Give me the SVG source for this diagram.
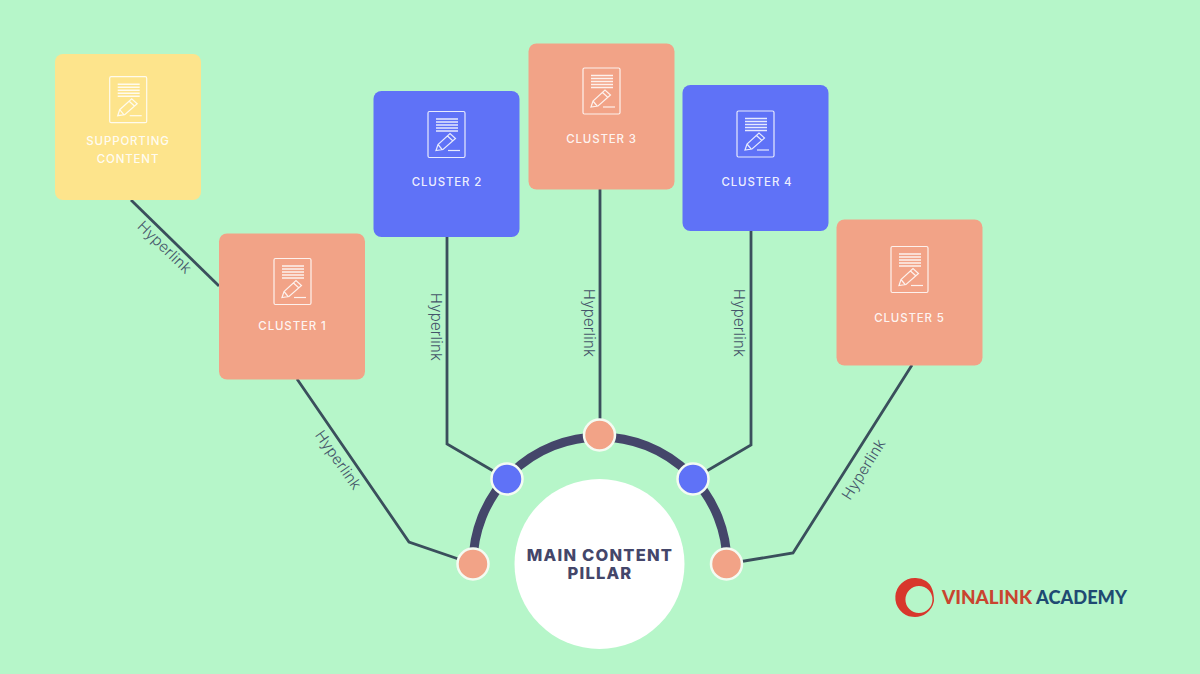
<svg xmlns="http://www.w3.org/2000/svg" width="1200" height="674" viewBox="0 0 1200 674">
<style>
.card{rx:8px;ry:8px}
.salmon{fill:#f2a387}
.blue{fill:#5f72f7}
.yellow{fill:#fde48c}
.cap{font-family:"Inter","Liberation Sans",sans-serif;font-size:11.5px;font-weight:500;fill:#fff;fill-opacity:.9;text-anchor:middle;letter-spacing:.85px}
.link{fill:none;stroke:#3a4f5c;stroke-width:2.8;stroke-linejoin:miter}
.lbl{font-family:"Inter","Liberation Sans",sans-serif;font-size:15px;font-weight:300;fill:#45556a;text-anchor:middle;letter-spacing:.2px}
.dot{stroke:#f4fbf2;stroke-width:2.5}
</style>
<defs>
<g id="doc" fill="none" stroke="#fff" stroke-opacity=".85">
<rect x="0" y="0" width="37" height="46" rx="1.5" stroke-width="1.2"/>
<path d="M8 7.500H30M8 10.500H30M8 13.500H30M8 16.500H30M8 19.500H30" stroke-width="1.4"/>
<path d="M8 39L10 33L22 22L27.500 27L15 38ZM10 33L14.500 38.500M19.500 24.500L25 29.500" stroke-width="1.2"/>
<path d="M20 39H32" stroke-width="1.2"/>
</g>
</defs>
<rect width="1200" height="674" fill="#b6f6c9"/>

<g id="connectors">
<path class="link" d="M131 200L219 286"/>
<path class="link" d="M297 379L409 542L473 564"/>
<path class="link" d="M447 237V444L507 479"/>
<path class="link" d="M600 189V435"/>
<path class="link" d="M751 231V445L693 479"/>
<path class="link" d="M912 365L793 553L726 564"/>
<text class="lbl" transform="translate(161 251) rotate(44)">Hyperlink</text>
<text class="lbl" transform="translate(334 463) rotate(55)">Hyperlink</text>
<text class="lbl" transform="translate(431 327) rotate(90)">Hyperlink</text>
<text class="lbl" transform="translate(584 323) rotate(90)">Hyperlink</text>
<text class="lbl" transform="translate(734 323) rotate(90)">Hyperlink</text>
<text class="lbl" transform="translate(868 472) rotate(-58)">Hyperlink</text>
</g>

<g id="card-supporting" transform="translate(55 54)">
<rect class="card yellow" width="146" height="146"/>
<use href="#doc" x="54.700" y="22.700"/>
<text class="cap" x="73" y="91">SUPPORTING</text>
<text class="cap" x="73" y="109">CONTENT</text>
</g>
<g id="card-cluster-1" transform="translate(219 233.500)">
<rect class="card salmon" width="146" height="146"/>
<use href="#doc" x="55" y="25"/>
<text class="cap" x="73.500" y="96.500">CLUSTER 1</text>
</g>
<g id="card-cluster-2" transform="translate(373.500 91)">
<rect class="card blue" width="146" height="146"/>
<use href="#doc" x="54.500" y="20.500"/>
<text class="cap" x="73.500" y="95">CLUSTER 2</text>
</g>
<g id="card-cluster-3" transform="translate(528.500 43.500)">
<rect class="card salmon" width="146" height="146"/>
<use href="#doc" x="54.500" y="24.500"/>
<text class="cap" x="73" y="99.500">CLUSTER 3</text>
</g>
<g id="card-cluster-4" transform="translate(682.500 85)">
<rect class="card blue" width="146" height="146"/>
<use href="#doc" x="54.500" y="26"/>
<text class="cap" x="74.500" y="101">CLUSTER 4</text>
</g>
<g id="card-cluster-5" transform="translate(836.500 219.500)">
<rect class="card salmon" width="146" height="146"/>
<use href="#doc" x="54.500" y="27"/>
<text class="cap" x="73" y="102.500">CLUSTER 5</text>
</g>

<g id="pillar">
<path d="M473 564A127 127 0 0 1 727 564" fill="none" stroke="#44466a" stroke-width="9"/>
<circle cx="599.500" cy="564" r="85" fill="#fff"/>
<text font-family="Inter,'Liberation Sans',sans-serif" font-size="16.500" font-weight="800" fill="#44466a" text-anchor="middle" letter-spacing="1.200"><tspan x="600" y="560.500">MAIN CONTENT</tspan><tspan x="600" y="578.500">PILLAR</tspan></text>
</g>
<g id="dot-1"><circle class="dot salmon" cx="473" cy="564" r="15.500"/></g>
<g id="dot-2"><circle class="dot blue" cx="507" cy="479" r="15.500"/></g>
<g id="dot-3"><circle class="dot salmon" cx="599.500" cy="435" r="15.500"/></g>
<g id="dot-4"><circle class="dot blue" cx="693" cy="479" r="15.500"/></g>
<g id="dot-5"><circle class="dot salmon" cx="726.500" cy="564" r="15.500"/></g>

<g id="logo">
<path fill-rule="evenodd" fill="#d8372c" d="M915 578A19.500 19.500 0 1 0 934 601C934 592 932 585 926 581A19 19 0 0 0 915 578ZM919 586A13.500 13.500 0 1 1 918.900 613A13.500 13.500 0 1 1 919 586Z"/>
<text font-family="Lato,'Liberation Sans',sans-serif" font-size="19.500" font-weight="900" fill="#c9442f" x="942" y="604" textLength="90" lengthAdjust="spacingAndGlyphs">VINALINK</text>
<text font-family="Lato,'Liberation Sans',sans-serif" font-size="19.500" font-weight="900" fill="#1f4a72" x="1036" y="604" textLength="91" lengthAdjust="spacingAndGlyphs">ACADEMY</text>
</g>
</svg>
